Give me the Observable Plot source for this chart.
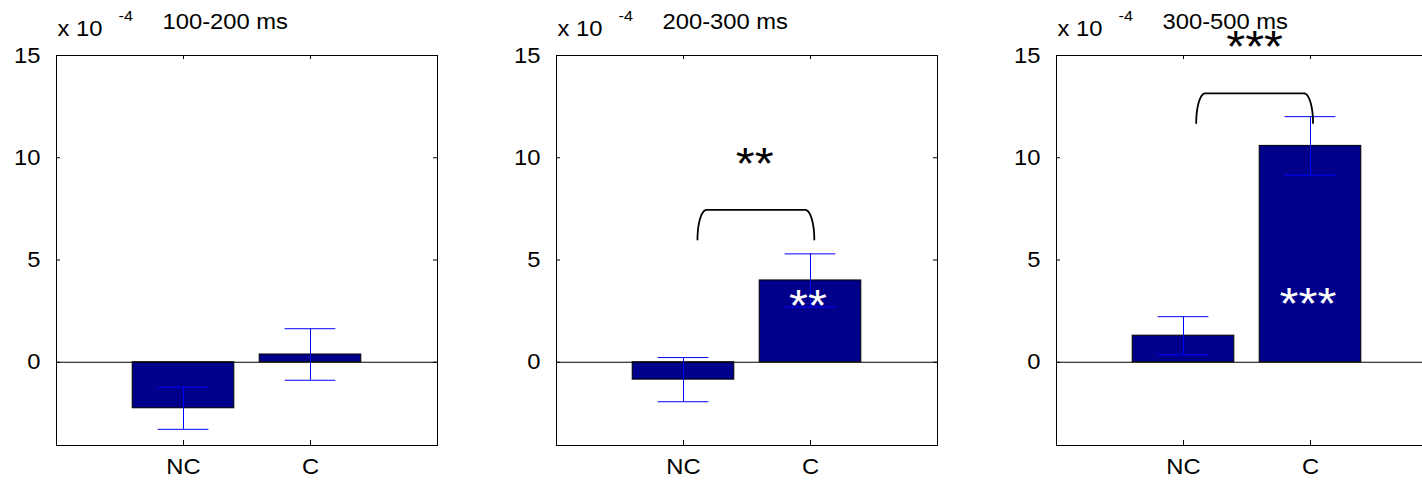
<!DOCTYPE html>
<html>
<head>
<meta charset="utf-8">
<script src="https://cdn.jsdelivr.net/npm/d3@7"></script>
<script src="https://cdn.jsdelivr.net/npm/@observablehq/plot@0.6"></script>
<style>
  html, body { margin: 0; padding: 0; background: #fff; overflow: hidden; }
  #root { display: flex; flex-wrap: nowrap; width: 1422px; height: 481px; overflow: hidden; }
  #root svg { flex: 0 0 auto; max-width: none !important; }
</style>
</head>
<body>
<div id="root"></div>
<script>
// ---- data ----
const categories = ["NC", "C"];
const windows = ["100-200 ms", "200-300 ms", "300-500 ms"];
const meansNC = [-2.25, -0.85, 1.3];
const meansC = [0.38, 4.0, 10.58];
const errNC = [1.03, 1.08, 0.93];
const errC = [1.26, 1.3, 1.43];
const yTicks = [0, 5, 10, 15];
const sigOuter = ["", "**", "***"];
const sigOuterY = [null, 10.2, 15.94];
const sigInner = ["", "**", "***"];
const sigInnerY = [null, 3.3, 3.36];
const bracketBottom = [null, 6.0, 11.7];
const bracketTop = [null, 7.45, 13.15];
const bracketLeft = [null, 1.11, 1.10];
const bracketRight = [null, 2.03, 2.02];
const sigOuterX = 1.56;
const sigInnerX = 1.98;
const scaleLabel = "x 10";
const scaleExp = "-4";

// ---- styling ----
const W = 500, H = 481;
const mTop = 55, mBottom = 36, mLeft = 56, mRight = 63;
const plotH = H - mTop - mBottom, plotW = W - mLeft - mRight;
const font = "'Liberation Sans', Arial, Helvetica, sans-serif";
const fs = 22;
const stretch = 1.08;
const barFill = "#00008B";
const errColor = "#0000ff";
const starSize = 45;

const root = document.getElementById("root");

windows.forEach((win, i) => {
  const bars = categories.map((c, j) => ({
    cat: c,
    x: j + 1,
    y: j === 0 ? meansNC[i] : meansC[i],
    e: j === 0 ? errNC[i] : errC[i]
  }));

  const marks = [
    Plot.rect(bars, {x1: d => d.x - 0.4, x2: d => d.x + 0.4, y1: 0, y2: "y", fill: barFill, stroke: "#000", strokeWidth: 1}),
    Plot.ruleY([0], {stroke: "#000", strokeWidth: 1}),
    Plot.ruleX(bars, {x: "x", y1: d => d.y - d.e, y2: d => d.y + d.e, stroke: errColor, strokeWidth: 1}),
    Plot.ruleY(bars, {y: d => d.y + d.e, x1: d => d.x - 0.2, x2: d => d.x + 0.2, stroke: errColor, strokeWidth: 1}),
    Plot.ruleY(bars, {y: d => d.y - d.e, x1: d => d.x - 0.2, x2: d => d.x + 0.2, stroke: errColor, strokeWidth: 1}),
    Plot.frame({stroke: "#000", strokeWidth: 1}),
    // inward ticks on all four sides
    Plot.tickX([1, 2], {x: d => d, insetBottom: plotH - 4, stroke: "#000"}),
    Plot.tickX([1, 2], {x: d => d, insetTop: plotH - 5, stroke: "#000"}),
    Plot.tickY(yTicks, {y: d => d, insetRight: plotW - 4, stroke: "#000"}),
    Plot.tickY(yTicks, {y: d => d, insetLeft: plotW - 4, stroke: "#000"}),
    Plot.axisY({ticks: yTicks, tickSize: 0, tickPadding: 16, label: null, fontSize: fs}),
    Plot.axisX({ticks: [1, 2], tickFormat: d => categories[d - 1], tickSize: 0, tickPadding: 13, label: null, fontSize: fs}),
    Plot.text([scaleLabel], {frameAnchor: "top-left", text: d => d, textAnchor: "start", lineAnchor: "bottom", dx: 1, dy: -20, fontSize: fs, fill: "#000"}),
    Plot.text([scaleExp], {frameAnchor: "top-left", text: d => d, textAnchor: "start", lineAnchor: "bottom", dx: 62, dy: -35, fontSize: 15, fill: "#000"}),
    Plot.text([win], {frameAnchor: "top-left", text: d => d, textAnchor: "start", lineAnchor: "bottom", dx: 106, dy: -26.7, fontSize: fs, fill: "#000"})
  ];

  if (sigOuter[i]) {
    const x1 = bracketLeft[i], x2 = bracketRight[i], yb = bracketBottom[i], yt = bracketTop[i];
    const rx = 9 / (plotW / 3);
    const n = 16;
    const pts = [];
    for (let k = 0; k <= n; k++) {
      const t = (k / n) * Math.PI / 2;
      pts.push({x: x1 + rx * (1 - Math.cos(t)), y: yb + (yt - yb) * Math.sin(t)});
    }
    for (let k = n; k >= 0; k--) {
      const t = (k / n) * Math.PI / 2;
      pts.push({x: x2 - rx * (1 - Math.cos(t)), y: yb + (yt - yb) * Math.sin(t)});
    }
    marks.push(Plot.line(pts, {x: "x", y: "y", stroke: "#000", strokeWidth: 1.8, curve: "linear"}));
    marks.push(Plot.text([sigOuter[i]], {x: sigOuterX, y: sigOuterY[i], text: d => d, fontSize: starSize, lineAnchor: "bottom", dy: 0.574 * starSize, fill: "#000", ariaLabel: "stars"}));
    marks.push(Plot.text([sigInner[i]], {x: sigInnerX, y: sigInnerY[i], text: d => d, fontSize: starSize, lineAnchor: "bottom", dy: 0.574 * starSize, fill: "#fff", ariaLabel: "stars"}));
  }

  const svg = Plot.plot({
    width: W,
    height: H,
    marginTop: mTop,
    marginBottom: mBottom,
    marginLeft: mLeft,
    marginRight: mRight,
    style: {fontFamily: font, fontSize: fs + "px", background: "#fff", color: "#000", overflow: "visible"},
    x: {domain: [0, 3], axis: null},
    y: {domain: [-4.07, 15], axis: null},
    marks
  });
  root.appendChild(svg);

  // slight horizontal stretch of the regular text to match the reference's wide lettering
  svg.querySelectorAll("text").forEach(t => {
    if (t.closest('[aria-label="stars"]')) return;
    const w = t.getComputedTextLength();
    if (w > 0) {
      t.setAttribute("textLength", (w * stretch).toFixed(2));
      t.setAttribute("lengthAdjust", "spacingAndGlyphs");
    }
  });
});
</script>
</body>
</html>
